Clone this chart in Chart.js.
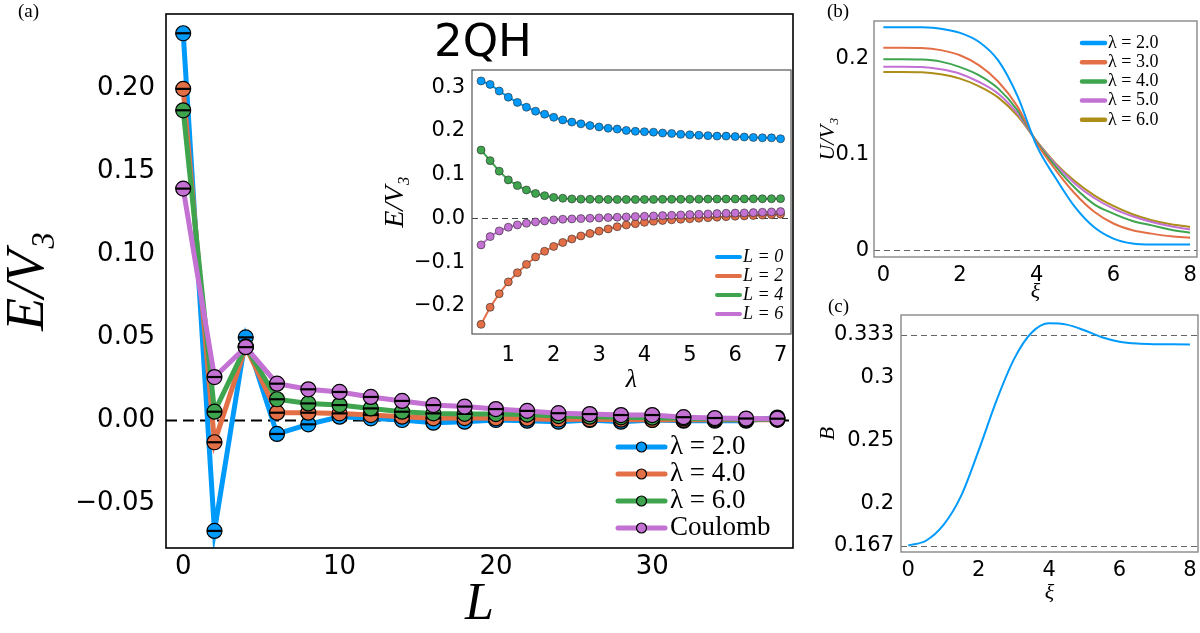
<!DOCTYPE html>
<html>
<head>
<meta charset="utf-8">
<script src="https://cdn.jsdelivr.net/npm/chart.js@4.4.1/dist/chart.umd.min.js"></script>
<style>
    html, body { margin: 0; padding: 0; background: #fff; }
    #page { position: relative; width: 1200px; height: 633px; overflow: hidden; background: #fff; }
    canvas { position: absolute; }
    .tag { position: absolute; font-family: "Liberation Serif", serif; font-size: 19px; line-height: 1; color: #000; }
    .big { position: absolute; font-family: "DejaVu Sans", sans-serif; font-size: 45px; line-height: 1; color: #000; }
</style>
</head>
<body>
<div id="page">
    <canvas id="mainChart" width="800" height="633" style="left:0;top:0;width:800px;height:633px"></canvas>
    <canvas id="insetChart" width="430" height="340" style="left:370px;top:60px;width:430px;height:340px"></canvas>
    <canvas id="potChart" width="380" height="305" style="left:820px;top:0;width:380px;height:305px"></canvas>
    <canvas id="bChart" width="380" height="338" style="left:820px;top:295px;width:380px;height:338px"></canvas>
    <div class="tag" style="left:18px;top:1px">(a)</div>
    <div class="tag" style="left:827px;top:1px">(b)</div>
    <div class="tag" style="left:828px;top:296px">(c)</div>
    <div class="big" style="left:434px;top:18px">2QH</div>
</div>
<script>
// === DATA: panel (a), E/V3 versus L ===
const mainL = [0, 2, 4, 6, 8, 10, 12, 14, 16, 18, 20, 22, 24, 26, 28, 30, 32, 34, 36, 38];
const mainLabels = ['λ = 2.0', 'λ = 4.0', 'λ = 6.0', 'Coulomb'];
const mainColors = ['#009AFA', '#E36F47', '#3EA44E', '#C371D2'];
const eLam2 = [0.233, -0.0668, 0.0498, -0.0084, -0.0026, 0.002, 0.001, 0.0, -0.0016, -0.001,
    0.0, -0.0004, -0.001, 0.0, -0.001, 0.0, -0.0004, -0.0004, -0.0004, 0.0015];
const eLam4 = [0.1995, -0.0134, 0.0442, 0.0044, 0.0044, 0.004, 0.003, 0.002, 0.001, 0.0012,
    0.001, 0.0008, 0.0003, 0.0004, 0.0002, 0.0001, 0.0001, 0.0001, 0.0001, 0.0001];
const eLam6 = [0.1866, 0.005, 0.0442, 0.0125, 0.01, 0.009, 0.007, 0.005, 0.004, 0.0037,
    0.0036, 0.0033, 0.0024, 0.002, 0.0016, 0.0014, 0.001, 0.0006, 0.0004, 0.0004];
const eCoulomb = [0.1394, 0.0259, 0.0439, 0.0219, 0.0185, 0.0169, 0.0139, 0.0115, 0.009, 0.0081,
    0.0066, 0.0055, 0.0041, 0.0036, 0.003, 0.003, 0.0017, 0.0012, 0.0009, 0.0008];
const mainXTicks = [0, 10, 20, 30];
const mainYTicks = [-0.05, 0, 0.05, 0.10, 0.15, 0.20];
const mainYTickLabels = ['\u22120.05', '0.00', '0.05', '0.10', '0.15', '0.20'];

// === DATA: inset, E/V3 versus lambda ===
const insetLambda = [0.4, 0.6, 0.8, 1.0, 1.2, 1.4, 1.6, 1.8, 2.0, 2.2, 2.4, 2.6, 2.8, 3.0, 3.2, 3.4, 3.6,
    3.8, 4.0, 4.2, 4.4, 4.6, 4.8, 5.0, 5.2, 5.4, 5.6, 5.8, 6.0, 6.2, 6.4, 6.6, 6.8, 7.0];
const insetLabels = ['L = 0', 'L = 2', 'L = 4', 'L = 6'];
const insetColors = ['#009AFA', '#E36F47', '#3EA44E', '#C371D2'];
const insetL0 = [0.314, 0.306, 0.291, 0.277, 0.265, 0.254, 0.245, 0.238, 0.231, 0.225, 0.220, 0.216,
    0.212, 0.209, 0.206, 0.204, 0.201, 0.199, 0.198, 0.197, 0.195, 0.194, 0.192, 0.191, 0.190, 0.189,
    0.188, 0.188, 0.187, 0.186, 0.185, 0.184, 0.184, 0.182];
const insetL2 = [-0.242, -0.203, -0.172, -0.145, -0.124, -0.105, -0.088, -0.075, -0.064, -0.055, -0.047,
    -0.040, -0.0345, -0.029, -0.024, -0.019, -0.015, -0.012, -0.009, -0.0065, -0.0047, -0.0032, -0.0019,
    -0.0008, 0.0004, 0.0017, 0.0028, 0.0040, 0.0050, 0.0058, 0.0068, 0.0077, 0.0085, 0.0098];
const insetL4 = [0.156, 0.132, 0.108, 0.088, 0.075, 0.065, 0.057, 0.052, 0.048, 0.046, 0.0445, 0.044,
    0.0437, 0.0435, 0.0433, 0.0432, 0.0432, 0.0432, 0.0433, 0.0434, 0.0435, 0.0436, 0.0437, 0.0438,
    0.044, 0.0441, 0.0442, 0.0443, 0.0444, 0.0446, 0.0447, 0.0448, 0.045, 0.0452];
const insetL6 = [-0.0605, -0.0415, -0.0285, -0.0202, -0.0148, -0.011, -0.008, -0.0057, -0.0034, -0.0019,
    -0.0011, -0.0004, 0.0004, 0.0011, 0.0019, 0.0027, 0.0034, 0.0042, 0.0049, 0.0057, 0.0065, 0.0072,
    0.008, 0.0087, 0.0095, 0.0102, 0.011, 0.0118, 0.0122, 0.0126, 0.0133, 0.014, 0.0148, 0.0156];
const insetXTicks = [1, 2, 3, 4, 5, 6, 7];
const insetYTicks = [-0.2, -0.1, 0, 0.1, 0.2, 0.3];
const insetYTickLabels = ['\u22120.2', '\u22120.1', '0.0', '0.1', '0.2', '0.3'];

// === DATA: panel (b), U/V3 versus xi ===
const xi = [0, 0.5, 1, 1.5, 2, 2.5, 3, 3.5, 4, 4.5, 5, 5.5, 6, 6.5, 7, 7.5, 8];
const potLabels = ['λ = 2.0', 'λ = 3.0', 'λ = 4.0', 'λ = 5.0', 'λ = 6.0'];
const potColors = ['#009AFA', '#E36F47', '#3EA44E', '#C371D2', '#AC8E18'];
const uLam2 = [0.233, 0.233, 0.2328, 0.2314, 0.227, 0.2175, 0.198, 0.161, 0.109, 0.075, 0.045, 0.024,
    0.0122, 0.007, 0.006, 0.006, 0.006];
const uLam3 = [0.2116, 0.2116, 0.2113, 0.209, 0.2036, 0.193, 0.176, 0.150, 0.112, 0.0835, 0.059, 0.0402,
    0.028, 0.021, 0.0174, 0.0146, 0.0132];
const uLam4 = [0.1994, 0.1994, 0.1991, 0.197, 0.1913, 0.1827, 0.1688, 0.1461, 0.113, 0.087, 0.065, 0.048,
    0.0383, 0.0306, 0.026, 0.0215, 0.0184];
const uLam5 = [0.1917, 0.1917, 0.1914, 0.189, 0.1844, 0.1757, 0.1635, 0.1426, 0.1135, 0.0894, 0.0696,
    0.0546, 0.0435, 0.0355, 0.0296, 0.025, 0.0216];
const uLam6 = [0.1862, 0.1862, 0.1859, 0.1837, 0.1792, 0.1712, 0.1594, 0.1403, 0.114, 0.0905, 0.072,
    0.0574, 0.0463, 0.0376, 0.0313, 0.0271, 0.0244];
const potYTicks = [0, 0.1, 0.2];
const potYTickLabels = ['0', '0.1', '0.2'];
const xiTicks = [0, 2, 4, 6, 8];

// === DATA: panel (c), B versus xi ===
const bValues = [0.1667, 0.1705, 0.183, 0.206, 0.242, 0.281, 0.314, 0.335, 0.3425, 0.3415, 0.337, 0.3315,
    0.328, 0.3265, 0.326, 0.3259, 0.3258];
const bYTicks = [0.1667, 0.2, 0.25, 0.3, 0.3333];
const bYTickLabels = ['0.167', '0.2', '0.25', '0.3', '0.333'];
const bRefLines = [0.1667, 0.3333];

// === PLUGINS ===
const framePlugin = {
    id: 'frame',
    afterDatasetsDraw(chart, args, opts) {
        const a = chart.chartArea;
        const ctx = chart.ctx;
        ctx.save();
        ctx.strokeStyle = opts.color || '#000';
        ctx.lineWidth = opts.width || 1;
        ctx.strokeRect(a.left, a.top, a.right - a.left, a.bottom - a.top);
        ctx.restore();
    }
};

const refLinesPlugin = {
    id: 'refLines',
    beforeDatasetsDraw(chart, args, opts) {
        if (!opts.values) return;
        const a = chart.chartArea;
        const ctx = chart.ctx;
        ctx.save();
        ctx.strokeStyle = opts.color || '#000';
        ctx.lineWidth = opts.width || 1;
        ctx.setLineDash(opts.dash || [6, 4]);
        opts.values.forEach(v => {
            const y = Math.round(chart.scales.y.getPixelForValue(v)) + 0.5;
            ctx.beginPath();
            ctx.moveTo(a.left, y);
            ctx.lineTo(a.right, y);
            ctx.stroke();
        });
        ctx.restore();
    }
};

const boxLegendPlugin = {
    id: 'boxLegend',
    afterDraw(chart, args, opts) {
        if (!opts.items) return;
        const a = chart.chartArea;
        const ctx = chart.ctx;
        ctx.save();
        opts.items.forEach((item, i) => {
            const y = a.top + opts.top + i * opts.rowHeight;
            const x0 = a.left + opts.left;
            ctx.strokeStyle = item.color;
            ctx.lineWidth = opts.lineWidth;
            ctx.lineCap = 'round';
            ctx.beginPath();
            ctx.moveTo(x0, y);
            ctx.lineTo(x0 + opts.lineLength, y);
            ctx.stroke();
            if (opts.markerRadius) {
                ctx.beginPath();
                ctx.arc(x0 + opts.lineLength / 2, y, opts.markerRadius, 0, Math.PI * 2);
                ctx.fillStyle = item.color;
                ctx.fill();
                ctx.lineWidth = 1.2;
                ctx.strokeStyle = '#000';
                ctx.stroke();
            }
            ctx.fillStyle = '#000';
            ctx.font = opts.font;
            ctx.textBaseline = 'middle';
            ctx.textAlign = 'left';
            ctx.fillText(item.label, x0 + opts.lineLength + opts.gap, y);
        });
        ctx.restore();
    }
};

Chart.register(framePlugin, refLinesPlugin, boxLegendPlugin);

// === HELPERS ===
function points(xs, ys) {
    return xs.map((x, i) => ({ x: x, y: ys[i] }));
}

function fixedTicks(values) {
    return scale => { scale.ticks = values.map(v => ({ value: v })); };
}

// fixed axis box, and no extra room reserved for the end labels
function fixedSize(key, size) {
    return scale => {
        scale[key] = size;
        scale.paddingTop = 0;
        scale.paddingBottom = 0;
        scale.paddingLeft = 0;
        scale.paddingRight = 0;
    };
}

function axis(opts) {
    return {
        type: 'linear',
        min: opts.min,
        max: opts.max,
        grid: { display: false, drawTicks: false },
        border: { display: false },
        afterBuildTicks: fixedTicks(opts.ticks),
        afterFit: opts.fit,
        ticks: {
            autoSkip: false,
            maxRotation: 0,
            color: '#000',
            padding: opts.tickPadding,
            font: { family: 'DejaVu Sans', size: opts.tickSize },
            callback: (value, index) => opts.labels ? opts.labels[index] : String(value)
        },
        title: {
            display: true,
            text: opts.title,
            color: '#000',
            padding: opts.titlePadding,
            font: { family: 'Liberation Serif', style: 'italic', size: opts.titleSize, lineHeight: opts.titleLine || 1 }
        }
    };
}

const baseOptions = {
    responsive: false,
    animation: false,
    events: []
};

// === PANEL (a) ===
const mainSeries = [eLam2, eLam4, eLam6, eCoulomb];
const mainDatasets = [];
mainSeries.forEach((ys, i) => {
    const depth = (mainSeries.length - i) * 2;
    mainDatasets.push({
        data: points(mainL, ys),
        borderColor: mainColors[i],
        backgroundColor: mainColors[i],
        borderWidth: 5,
        pointRadius: 7.5,
        pointBackgroundColor: mainColors[i],
        pointBorderColor: '#000',
        pointBorderWidth: 1.2,
        tension: 0,
        order: depth + 1
    });
    // error bars: short black bar across each marker
    mainDatasets.push({
        data: points(mainL, ys),
        showLine: false,
        pointStyle: 'line',
        pointRadius: 7.5,
        pointBorderColor: '#000',
        pointBorderWidth: 2.2,
        order: depth
    });
});

new Chart(document.getElementById('mainChart'), {
    type: 'line',
    data: { datasets: mainDatasets },
    options: {
        ...baseOptions,
        layout: { autoPadding: false, padding: { top: 14, right: 7, left: 0, bottom: 0 } },
        scales: {
            x: axis({ min: -1.1, max: 39, ticks: mainXTicks, tickSize: 26, tickPadding: 4,
                title: 'L', titleSize: 52, titlePadding: { top: 0, bottom: 2 },
                fit: fixedSize('height', 85) }),
            y: axis({ min: -0.0771, max: 0.2446, ticks: mainYTicks, labels: mainYTickLabels,
                tickSize: 26, tickPadding: 11, title: 'E/V\u2083', titleSize: 54,
                titlePadding: { top: 2, bottom: 0 }, fit: fixedSize('width', 166) })
        },
        plugins: {
            legend: { display: false },
            tooltip: { enabled: false },
            frame: { color: '#000', width: 1.6 },
            refLines: { values: [0], color: '#000', width: 2, dash: [11, 6] },
            boxLegend: {
                items: mainLabels.map((l, i) => ({ label: l, color: mainColors[i] })),
                left: 452, top: 433, rowHeight: 27, lineLength: 47, lineWidth: 5,
                markerRadius: 5, gap: 5, font: '27px "Liberation Serif"'
            }
        }
    }
});

// === INSET ===
const insetSeries = [insetL0, insetL2, insetL4, insetL6];
new Chart(document.getElementById('insetChart'), {
    type: 'line',
    data: {
        datasets: insetSeries.map((ys, i) => ({
            data: points(insetLambda, ys),
            borderColor: insetColors[i],
            borderWidth: 2,
            pointRadius: 4,
            pointBackgroundColor: insetColors[i],
            pointBorderColor: 'rgba(40,40,40,0.75)',
            pointBorderWidth: 0.8,
            tension: 0,
            order: insetSeries.length - i
        }))
    },
    options: {
        ...baseOptions,
        layout: { autoPadding: false, padding: { top: 10, right: 9, left: 0, bottom: 0 } },
        scales: {
            x: axis({ min: 0.2, max: 7.23, ticks: insetXTicks, tickSize: 21, tickPadding: 9,
                title: 'λ', titleSize: 26, titlePadding: { top: 0, bottom: 7 },
                fit: fixedSize('height', 66) }),
            y: axis({ min: -0.264, max: 0.339, ticks: insetYTicks, labels: insetYTickLabels,
                tickSize: 21, tickPadding: 7, title: 'E/V\u2083', titleSize: 28,
                titlePadding: { top: 12, bottom: 0 }, fit: fixedSize('width', 102) })
        },
        plugins: {
            legend: { display: false },
            tooltip: { enabled: false },
            frame: { color: '#555', width: 1.2 },
            refLines: { values: [0], color: '#444', width: 1, dash: [6, 4] },
            boxLegend: {
                items: insetLabels.map((l, i) => ({ label: l, color: insetColors[i] })),
                left: 245, top: 187, rowHeight: 19, lineLength: 23, lineWidth: 4,
                markerRadius: 0, gap: 3, font: 'italic 18px "Liberation Serif"'
            }
        }
    }
});

// === PANEL (b) ===
const potSeries = [uLam2, uLam3, uLam4, uLam5, uLam6];
new Chart(document.getElementById('potChart'), {
    type: 'line',
    data: {
        datasets: potSeries.map((ys, i) => ({
            data: points(xi, ys),
            borderColor: potColors[i],
            borderWidth: 2,
            pointRadius: 0,
            cubicInterpolationMode: 'monotone'
        }))
    },
    options: {
        ...baseOptions,
        layout: { autoPadding: false, padding: { top: 21, right: 3, left: 0, bottom: 0 } },
        scales: {
            x: axis({ min: -0.243, max: 8.18, ticks: xiTicks, tickSize: 21, tickPadding: 6,
                title: 'ξ', titleSize: 22, titlePadding: { top: 0, bottom: 2 },
                fit: fixedSize('height', 48) }),
            y: axis({ min: -0.007, max: 0.2394, ticks: potYTicks, labels: potYTickLabels,
                tickSize: 21, tickPadding: 5, title: 'U/V\u2083', titleSize: 22, titleLine: 0.75,
                titlePadding: { top: 0, bottom: 0 }, fit: fixedSize('width', 54) })
        },
        plugins: {
            legend: { display: false },
            tooltip: { enabled: false },
            frame: { color: '#888', width: 1.4 },
            refLines: { values: [0], color: '#666', width: 1, dash: [6, 4] },
            boxLegend: {
                items: potLabels.map((l, i) => ({ label: l, color: potColors[i] })),
                left: 208, top: 22, rowHeight: 19.2, lineLength: 23, lineWidth: 4.5,
                markerRadius: 0, gap: 3, font: '18px "Liberation Serif"'
            }
        }
    }
});

// === PANEL (c) ===
new Chart(document.getElementById('bChart'), {
    type: 'line',
    data: {
        datasets: [{
            data: points(xi, bValues),
            borderColor: '#009AFA',
            borderWidth: 2,
            pointRadius: 0,
            cubicInterpolationMode: 'monotone'
        }]
    },
    options: {
        ...baseOptions,
        layout: { autoPadding: false, padding: { top: 20, right: 2, left: 0, bottom: 0 } },
        scales: {
            x: axis({ min: -0.207, max: 8.23, ticks: xiTicks, tickSize: 21, tickPadding: 6,
                title: 'ξ', titleSize: 22, titlePadding: { top: 0, bottom: 29 },
                fit: fixedSize('height', 81) }),
            y: axis({ min: 0.1616, max: 0.3491, ticks: bYTicks, labels: bYTickLabels,
                tickSize: 21, tickPadding: 7, title: 'B', titleSize: 22, titleLine: 0.75,
                titlePadding: { top: 0, bottom: 0 }, fit: fixedSize('width', 81) })
        },
        plugins: {
            legend: { display: false },
            tooltip: { enabled: false },
            frame: { color: '#888', width: 1.4 },
            refLines: { values: bRefLines, color: '#666', width: 1, dash: [6, 4] }
        }
    }
});
</script>
</body>
</html>
